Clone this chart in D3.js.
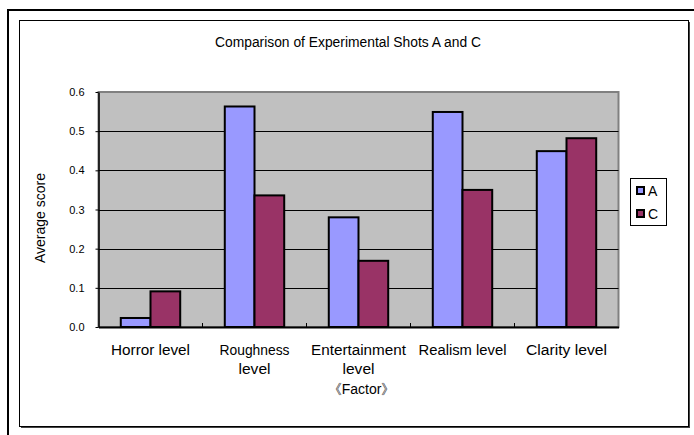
<!DOCTYPE html>
<html>
<head>
<meta charset="utf-8">
<script src="https://cdn.jsdelivr.net/npm/d3@7"></script>
<style>
  body { margin: 0; background: #fff; }
  svg text { font-family: "Liberation Sans", Arial, sans-serif; fill: #000; }
</style>
</head>
<body>
<svg id="chart"></svg>
<script>
const width = 694, height = 435;

const title = "Comparison of Experimental Shots A and C";
const categories = ["Horror level", "Roughness level", "Entertainment level", "Realism level", "Clarity level"];
const categoryLines = [["Horror level"], ["Roughness", "level"], ["Entertainment", "level"], ["Realism level"], ["Clarity level"]];
const lineWidths = [[79], [70, 32], [95, 32], [88], [81]];
const seriesNames = ["A", "C"];
const valuesA = [0.023, 0.563, 0.280, 0.549, 0.449];
const valuesC = [0.091, 0.336, 0.169, 0.350, 0.482];
const yTicks = [0.0, 0.1, 0.2, 0.3, 0.4, 0.5, 0.6];
const colors = { A: "#9999FF", C: "#993366" };

const plot = { left: 98.5, right: 618.5, top: 92, bottom: 327 };

const svg = d3.select("#chart").attr("width", width).attr("height", height);

// outer frame (only top and left visible)
svg.append("path")
   .attr("d", `M8,${height}L8,10L${width},10`)
   .attr("fill", "none")
   .attr("stroke", "#000")
   .attr("stroke-width", 2);

// chart area with shadow
svg.append("rect").attr("x", 21).attr("y", 22).attr("width", 669).attr("height", 406).attr("fill", "#444");
svg.append("rect")
   .attr("x", 19.5).attr("y", 20.5).attr("width", 669).attr("height", 406)
   .attr("fill", "#fff").attr("stroke", "#000").attr("stroke-width", 1);

svg.append("text")
   .attr("x", 348).attr("y", 47)
   .attr("text-anchor", "middle")
   .attr("textLength", 266).attr("lengthAdjust", "spacingAndGlyphs")
   .style("font-size", "14px")
   .text(title);

const y = d3.scaleLinear().domain([0, 0.6]).range([plot.bottom, plot.top]);
const x0 = d3.scaleBand().domain(categories).range([plot.left, plot.right]);
const bw = x0.bandwidth();
const gap = bw * 0.75 / 3.5;
const x1 = d3.scaleBand().domain(seriesNames).range([gap, bw - gap]);

// plot area
svg.append("rect")
   .attr("x", plot.left).attr("y", plot.top)
   .attr("width", plot.right - plot.left).attr("height", plot.bottom - plot.top)
   .attr("fill", "#C0C0C0").attr("stroke", "#808080").attr("stroke-width", 2);

// gridlines
svg.append("g").selectAll("line")
   .data(yTicks.filter(d => d > 0 && d < 0.6))
   .enter().append("line")
   .attr("x1", plot.left).attr("x2", plot.right)
   .attr("y1", d => Math.round(y(d)) + 0.5).attr("y2", d => Math.round(y(d)) + 0.5)
   .attr("stroke", "#000").attr("stroke-width", 1);

// bars
const data = categories.map((c, i) => ({ cat: c, A: valuesA[i], C: valuesC[i] }));
const groups = svg.append("g").selectAll("g")
   .data(data)
   .enter().append("g")
   .attr("transform", d => `translate(${x0(d.cat)},0)`);

groups.selectAll("rect")
   .data(d => seriesNames.map(s => ({ s, v: d[s] })))
   .enter().append("rect")
   .attr("x", d => x1(d.s))
   .attr("y", d => y(d.v))
   .attr("width", x1.bandwidth())
   .attr("height", d => y(0) - y(d.v))
   .attr("fill", d => colors[d.s])
   .attr("stroke", "#000")
   .attr("stroke-width", 2);

// y axis
const yAxis = svg.append("g")
   .attr("transform", `translate(${plot.left},0)`)
   .call(d3.axisLeft(y).tickValues(yTicks).tickFormat(d3.format(".1f")).tickSizeInner(3).tickSizeOuter(0).tickPadding(11));
yAxis.select(".domain").attr("stroke", "#000").attr("stroke-width", 1.5);
yAxis.selectAll("text").style("font-size", "11px").style("font-family", null);

// x axis
const xAxis = svg.append("g")
   .attr("transform", `translate(0,${plot.bottom})`)
   .call(d3.axisBottom(x0).tickSize(0).tickFormat(""));
xAxis.select(".domain").attr("stroke", "#000").attr("stroke-width", 2);

svg.append("g").selectAll("line")
   .data(categories.slice(1))
   .enter().append("line")
   .attr("x1", d => x0(d)).attr("x2", d => x0(d))
   .attr("y1", plot.bottom - 4).attr("y2", plot.bottom)
   .attr("stroke", "#000");

// category labels
categories.forEach((c, i) => {
    categoryLines[i].forEach((line, j) => {
        svg.append("text")
           .attr("x", x0(c) + bw / 2)
           .attr("y", 355 + j * 19)
           .attr("text-anchor", "middle")
           .attr("textLength", lineWidths[i][j]).attr("lengthAdjust", "spacingAndGlyphs")
           .style("font-size", "14px")
           .text(line);
    });
});

svg.append("text")
   .attr("x", (plot.left + plot.right) / 2 + 3).attr("y", 394)
   .attr("text-anchor", "middle")
   .style("font-size", "14px")
   .text("《Factor》");

svg.append("text")
   .attr("transform", "translate(45,218) rotate(-90)")
   .attr("text-anchor", "middle")
   .attr("textLength", 90).attr("lengthAdjust", "spacingAndGlyphs")
   .style("font-size", "14px")
   .text("Average score");

// legend
const legend = svg.append("g");
legend.append("rect")
   .attr("x", 630.5).attr("y", 178.5).attr("width", 36).attr("height", 47)
   .attr("fill", "#fff").attr("stroke", "#000");
seriesNames.forEach((s, i) => {
    legend.append("rect")
       .attr("x", 637).attr("y", 187 + i * 23).attr("width", 7).attr("height", 7)
       .attr("fill", colors[s]).attr("stroke", "#000").attr("stroke-width", 2);
    legend.append("text")
       .attr("x", 648).attr("y", 196 + i * 23)
       .style("font-size", "14px")
       .text(s);
});
</script>
</body>
</html>
